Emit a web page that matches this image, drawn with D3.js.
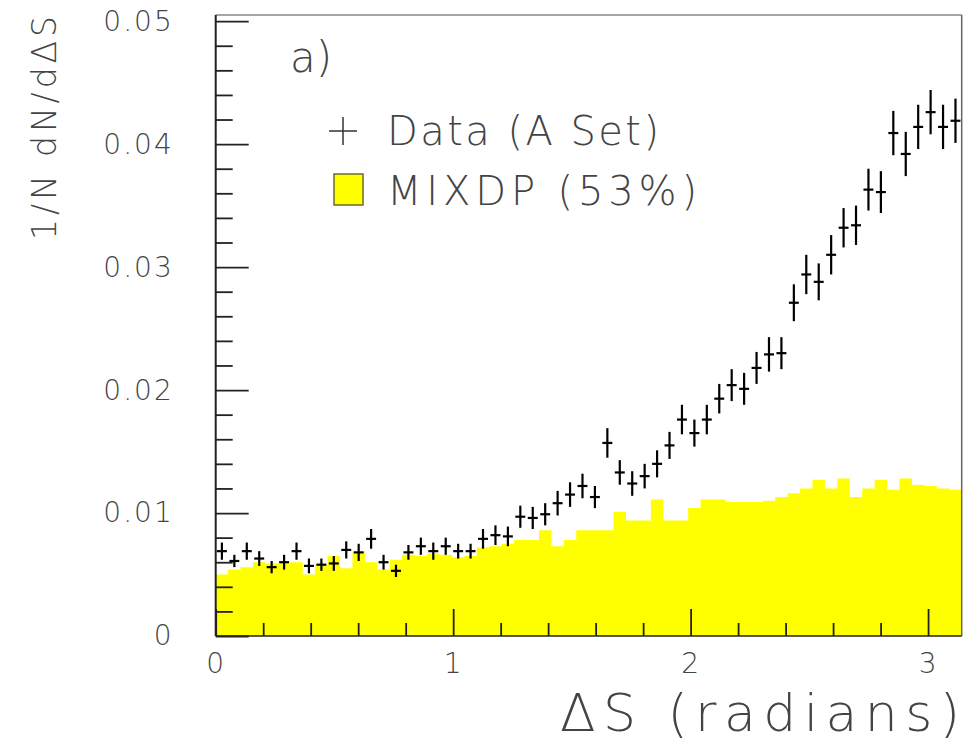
<!DOCTYPE html>
<html>
<head>
<meta charset="utf-8">
<script src="https://cdn.jsdelivr.net/npm/d3@7"></script>
<style>
  body { margin: 0; background: #fff; }
  text { font-family: "DejaVu Sans", "Liberation Sans", sans-serif; font-weight: 200; fill: #444; }
</style>
</head>
<body>
<div id="chart"></div>
<script>
// 60 bins over [0, pi]
var nBins = 60;

// Data (A Set): 1/N dN/dDeltaS per bin
var dataValues = [
  0.0069, 0.0061, 0.0069, 0.0063, 0.0056, 0.0060, 0.0069, 0.0057, 0.0058, 0.0059,
  0.0070, 0.0068, 0.0079, 0.0060, 0.0053, 0.0068, 0.0073, 0.0069, 0.0073, 0.0069,
  0.0069, 0.0079, 0.0082, 0.0081, 0.0097, 0.0096, 0.0099, 0.0108, 0.0115, 0.0122,
  0.0113, 0.0157, 0.0133, 0.0124, 0.0130, 0.0140, 0.0155, 0.0176, 0.0165, 0.0176,
  0.0193, 0.0204, 0.0201, 0.0218, 0.0229, 0.0230, 0.0271, 0.0294, 0.0288, 0.0310,
  0.0332, 0.0334, 0.0363, 0.0361, 0.0409, 0.0392, 0.0414, 0.0426, 0.0414, 0.0419
];

// statistical errors of the data
var dataErrors = [
  0.0007, 0.0005, 0.0007, 0.0006, 0.0005, 0.0006, 0.0007, 0.0006, 0.0005, 0.0006,
  0.0007, 0.0007, 0.0008, 0.0006, 0.0005, 0.0006, 0.0007, 0.0007, 0.0007, 0.0006,
  0.0006, 0.0008, 0.0008, 0.0008, 0.0009, 0.0009, 0.0009, 0.0010, 0.0010, 0.0010,
  0.0009, 0.0012, 0.0010, 0.0010, 0.0010, 0.0011, 0.0011, 0.0012, 0.0011, 0.0012,
  0.0012, 0.0013, 0.0013, 0.0013, 0.0014, 0.0013, 0.0015, 0.0016, 0.0015, 0.0016,
  0.0016, 0.0016, 0.0017, 0.0017, 0.0018, 0.0018, 0.0018, 0.0018, 0.0018, 0.0018
];

// MIXDP (53%) histogram
var mixdpValues = [
  0.0050, 0.0054, 0.0056, 0.0060, 0.0059, 0.0059, 0.0060, 0.0050, 0.0058, 0.0065,
  0.0055, 0.0068, 0.0060, 0.0054, 0.0062, 0.0066, 0.0065, 0.0067, 0.0066, 0.0064,
  0.0065, 0.0072, 0.0073, 0.0075, 0.0078, 0.0078, 0.0086, 0.0073, 0.0078, 0.0086,
  0.0086, 0.0086, 0.0101, 0.0094, 0.0094, 0.0111, 0.0094, 0.0094, 0.0104, 0.0111,
  0.0111, 0.0109, 0.0109, 0.0109, 0.0110, 0.0113, 0.0116, 0.0120, 0.0127, 0.0120,
  0.0128, 0.0113, 0.0120, 0.0127, 0.0119, 0.0128, 0.0123, 0.0122, 0.0120, 0.0119
];

var yMajor = [0, 0.01, 0.02, 0.03, 0.04, 0.05];
var xMajor = [0, 1, 2, 3];

var width = 972, height = 744;
var binW = Math.PI / nBins;

var x = d3.scaleLinear().domain([0, Math.PI]).range([215.7, 961.7]);
var y = d3.scaleLinear().domain([0, 0.0505]).range([636, 15]);

var svg = d3.select("#chart").append("svg")
    .attr("width", width)
    .attr("height", height);

// histogram as a filled step area
var histPts = mixdpValues.map(function(v, i) { return [i * binW, v]; });
histPts.push([Math.PI, mixdpValues[nBins - 1]]);
var area = d3.area()
    .curve(d3.curveStepAfter)
    .x(function(d) { return x(d[0]); })
    .y0(y(0))
    .y1(function(d) { return y(d[1]); });
svg.append("path")
    .datum(histPts)
    .attr("d", area)
    .attr("fill", "#ffff00");

// minor ticks
var yMinor = d3.range(0, 0.0501, 0.002).filter(function(v) { return Math.abs(v / 0.01 - Math.round(v / 0.01)) > 1e-6; });
var xMinor = d3.range(0, Math.PI, 0.2).filter(function(v) { return Math.abs(v - Math.round(v)) > 1e-6; });

svg.append("g")
    .attr("transform", "translate(" + x(0) + ",0)")
    .call(d3.axisLeft(y).tickValues(yMinor).tickSizeInner(-17).tickSizeOuter(0).tickFormat(""))
    .call(function(g) { g.select(".domain").remove(); });
svg.append("g")
    .attr("transform", "translate(0," + y(0) + ")")
    .call(d3.axisBottom(x).tickValues(xMinor).tickSizeInner(-13).tickSizeOuter(0).tickFormat(""))
    .call(function(g) { g.select(".domain").remove(); });

// major ticks + labels
var yAxis = svg.append("g")
    .attr("transform", "translate(" + x(0) + ",0)")
    .call(d3.axisLeft(y).tickValues(yMajor).tickSizeInner(-33).tickSizeOuter(0).tickPadding(42)
        .tickFormat(function(d) { return d === 0 ? "0" : d.toFixed(2); }));
yAxis.select(".domain").remove();

var xAxis = svg.append("g")
    .attr("transform", "translate(0," + y(0) + ")")
    .call(d3.axisBottom(x).tickValues(xMajor).tickSizeInner(-27).tickSizeOuter(0).tickPadding(17)
        .tickFormat(d3.format("d")));
xAxis.select(".domain").remove();

svg.selectAll(".tick line").attr("stroke", "#222").attr("stroke-width", 1.8);
svg.selectAll(".tick text")
    .style("font-family", "'DejaVu Sans', sans-serif")
    .style("font-weight", 200)
    .style("font-size", "28px")
    .attr("fill", "#444")
    .attr("letter-spacing", 2);

// frame
svg.append("line").attr("x1", x(0)).attr("x2", x(Math.PI)).attr("y1", y(0.0505)).attr("y2", y(0.0505))
    .attr("stroke", "#888").attr("stroke-width", 1.5);
svg.append("line").attr("x1", x(Math.PI)).attr("x2", x(Math.PI)).attr("y1", y(0.0505)).attr("y2", y(0))
    .attr("stroke", "#666").attr("stroke-width", 1.5);
svg.append("line").attr("x1", x(0)).attr("x2", x(0)).attr("y1", y(0.0505)).attr("y2", y(0))
    .attr("stroke", "#222").attr("stroke-width", 2);
svg.append("line").attr("x1", x(0)).attr("x2", x(Math.PI)).attr("y1", y(0)).attr("y2", y(0))
    .attr("stroke", "#222").attr("stroke-width", 1.5);

// data crosses
var pts = svg.append("g").attr("stroke", "#000").attr("stroke-width", 2.2);
dataValues.forEach(function(v, i) {
    var c = (i + 0.5) * binW;
    pts.append("line")
        .attr("x1", x(c)).attr("x2", x(c))
        .attr("y1", y(v - dataErrors[i])).attr("y2", y(v + dataErrors[i]));
    pts.append("line")
        .attr("x1", x(c - binW * 0.4)).attr("x2", x(c + binW * 0.4))
        .attr("y1", y(v)).attr("y2", y(v));
});

// panel label
svg.append("text").attr("x", 290).attr("y", 72)
    .style("font-size", "42px").text("a)");

// legend
svg.append("line").attr("x1", 329).attr("x2", 357).attr("y1", 131).attr("y2", 131)
    .attr("stroke", "#333").attr("stroke-width", 1.5);
svg.append("line").attr("x1", 343).attr("x2", 343).attr("y1", 117).attr("y2", 145)
    .attr("stroke", "#333").attr("stroke-width", 1.5);
svg.append("text").attr("x", 387).attr("y", 145)
    .style("font-size", "40px")
    .attr("textLength", 272).attr("lengthAdjust", "spacing")
    .text("Data (A Set)");

svg.append("rect").attr("x", 334).attr("y", 174).attr("width", 29).attr("height", 31)
    .attr("fill", "#ffff00").attr("stroke", "#6b6b2a").attr("stroke-width", 1.5);
svg.append("text").attr("x", 387).attr("y", 205)
    .style("font-size", "40px")
    .attr("textLength", 310).attr("lengthAdjust", "spacing")
    .text("MIXDP (53%)");

// axis titles
svg.append("text")
    .attr("text-anchor", "end")
    .attr("x", 960).attr("y", 731)
    .style("font-size", "52px")
    .attr("textLength", 400).attr("lengthAdjust", "spacing")
    .text("ΔS  (radians)");

svg.append("text")
    .attr("transform", "translate(56,240)rotate(-90)")
    .style("font-size", "33px")
    .attr("textLength", 224).attr("lengthAdjust", "spacing")
    .text("1/N dN/dΔS");
</script>
</body>
</html>
